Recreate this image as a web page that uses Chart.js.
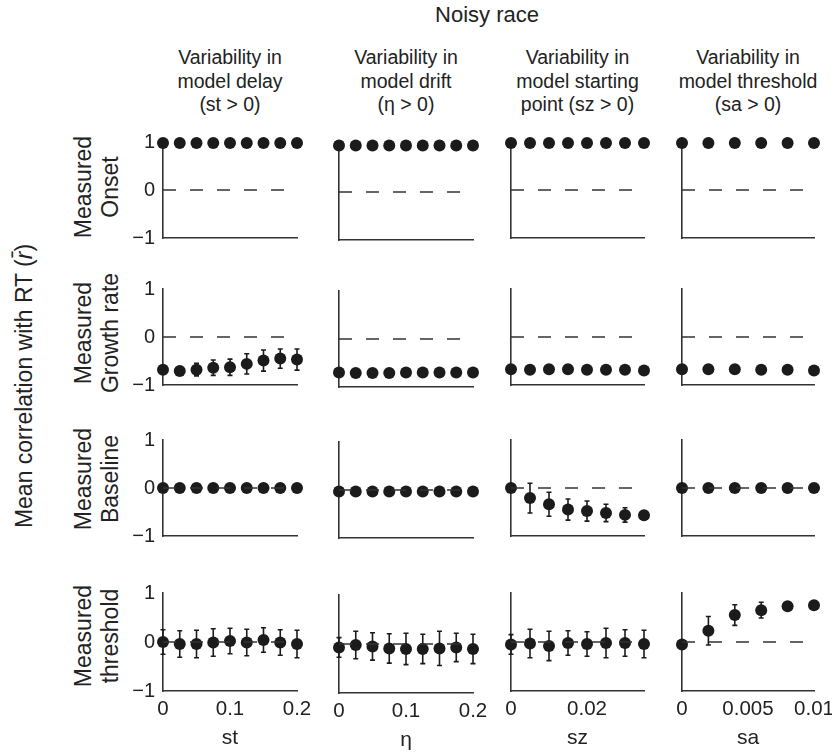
<!DOCTYPE html>
<html>
<head>
<meta charset="utf-8">
<script src="https://cdn.jsdelivr.net/npm/chart.js@4.4.0/dist/chart.umd.min.js"></script>
<style>
  body { margin: 0; background: #fff; font-family: "Liberation Sans", Arial, sans-serif; color: #222; }
  #fig { position: relative; width: 838px; height: 755px; overflow: hidden; }
  .panel { position: absolute; }
  .txt { position: absolute; white-space: nowrap; text-align: center; }
  .title { font-size: 19.5px; line-height: 23.5px; transform: translateX(-50%); }
  .big { font-size: 22px; }
  .rot { font-size: 23px; line-height: 1; transform: translate(-50%, -50%) rotate(-90deg); }
</style>
</head>
<body>
<div id="fig"></div>
<script>
// parameter values (x) for each column
const stX  = [0, 0.025, 0.05, 0.075, 0.1, 0.125, 0.15, 0.175, 0.2];
const etaX = [0, 0.025, 0.05, 0.075, 0.1, 0.125, 0.15, 0.175, 0.2];
const szX  = [0, 0.005, 0.01, 0.015, 0.02, 0.025, 0.03, 0.035];
const saX  = [0, 0.002, 0.004, 0.006, 0.008, 0.01];

const stTicks  = [0, 0.1, 0.2];
const etaTicks = [0, 0.1, 0.2];
const szTicks  = [0, 0.02];
const saTicks  = [0, 0.005, 0.01];
const yTicks   = [-1, 0, 1];

// mean correlation with RT, one array per column (st, eta, sz, sa)
const onsetR = [
  [0.98, 0.98, 0.98, 0.98, 0.98, 0.98, 0.98, 0.98, 0.98],
  [0.97, 0.97, 0.97, 0.97, 0.97, 0.97, 0.97, 0.97, 0.97],
  [0.98, 0.98, 0.98, 0.98, 0.98, 0.98, 0.98, 0.98],
  [0.98, 0.98, 0.98, 0.98, 0.98, 0.98]
];
const onsetErr = [
  [0.01, 0.01, 0.01, 0.01, 0.01, 0.01, 0.01, 0.01, 0.01],
  [0.01, 0.01, 0.01, 0.01, 0.01, 0.01, 0.01, 0.01, 0.01],
  [0.01, 0.01, 0.01, 0.01, 0.01, 0.01, 0.01, 0.01],
  [0.01, 0.01, 0.01, 0.01, 0.01, 0.01]
];
const growthR = [
  [-0.68, -0.71, -0.68, -0.64, -0.63, -0.56, -0.49, -0.45, -0.47],
  [-0.7, -0.71, -0.71, -0.71, -0.7, -0.7, -0.7, -0.7, -0.7],
  [-0.67, -0.68, -0.67, -0.67, -0.68, -0.68, -0.68, -0.7],
  [-0.67, -0.67, -0.67, -0.68, -0.68, -0.7]
];
const growthErr = [
  [0.04, 0.05, 0.13, 0.16, 0.17, 0.21, 0.22, 0.2, 0.22],
  [0.03, 0.03, 0.03, 0.03, 0.03, 0.03, 0.03, 0.03, 0.03],
  [0.03, 0.03, 0.03, 0.03, 0.03, 0.03, 0.03, 0.03],
  [0.03, 0.03, 0.03, 0.03, 0.03, 0.03]
];
const baselineR = [
  [0, 0, 0, 0, 0, 0, 0, 0, 0],
  [-0.03, -0.03, -0.03, -0.03, -0.03, -0.03, -0.03, -0.03, -0.03],
  [0, -0.21, -0.34, -0.45, -0.48, -0.52, -0.56, -0.57],
  [0, 0, 0, 0, 0, 0]
];
const baselineErr = [
  [0.03, 0.03, 0.03, 0.03, 0.03, 0.03, 0.03, 0.03, 0.03],
  [0.03, 0.03, 0.03, 0.03, 0.03, 0.03, 0.03, 0.03, 0.03],
  [0.05, 0.31, 0.25, 0.22, 0.21, 0.18, 0.15, 0.08],
  [0.03, 0.03, 0.03, 0.03, 0.03, 0.03]
];
const thresholdR = [
  [0, -0.04, -0.04, -0.01, 0.02, -0.01, 0.04, -0.01, -0.04],
  [-0.07, -0.02, -0.05, -0.09, -0.1, -0.1, -0.09, -0.07, -0.1],
  [-0.05, -0.03, -0.08, -0.02, -0.04, -0.02, -0.02, -0.04],
  [-0.05, 0.23, 0.55, 0.65, 0.73, 0.75]
];
const thresholdErr = [
  [0.25, 0.27, 0.28, 0.28, 0.26, 0.27, 0.25, 0.26, 0.28],
  [0.2, 0.28, 0.28, 0.3, 0.32, 0.3, 0.35, 0.29, 0.3],
  [0.2, 0.29, 0.3, 0.25, 0.25, 0.3, 0.27, 0.28],
  [0.03, 0.29, 0.21, 0.16, 0.06, 0.04]
];

const xValues = [stX, etaX, szX, saX];
const xTicks = [stTicks, etaTicks, szTicks, saTicks];
const xNames = ['st', 'η', 'sz', 'sa'];
const rowsR = [onsetR, growthR, baselineR, thresholdR];
const rowsErr = [onsetErr, growthErr, baselineErr, thresholdErr];

const colTitles = [
  ['Variability in', 'model delay', '(st > 0)'],
  ['Variability in', 'model drift', '(η > 0)'],
  ['Variability in', 'model starting', 'point (sz > 0)'],
  ['Variability in', 'model threshold', '(sa > 0)']
];
const rowLabels = [
  ['Measured', 'Onset'],
  ['Measured', 'Growth rate'],
  ['Measured', 'Baseline'],
  ['Measured', 'threshold']
];

// layout in page pixels
const colX = [163, 339, 511, 682];
const plotW = [134, 134, 133, 132];
const colShift = [0, 2, 0, 0];
const rowTop = [142, 289, 440, 593];
const plotH = 98;
const yW = 40, padTop = 10, padRight = 18;

const family = '"Liberation Sans", Arial, sans-serif';
const inkColor = '#1b1b1b';
const axisColor = '#333';
const textColor = '#222';

const fig = document.getElementById('fig');

function addText(html, x, y, cls) {
  const d = document.createElement('div');
  d.className = 'txt ' + cls;
  d.innerHTML = html;
  d.style.left = x + 'px';
  d.style.top = y + 'px';
  fig.appendChild(d);
}

// error bars drawn through the chart's own scales
const errorBars = {
  id: 'errorBars',
  beforeDatasetsDraw(chart) {
    const {ctx, scales: {x, y}} = chart;
    ctx.save();
    ctx.strokeStyle = inkColor;
    ctx.lineWidth = 1.6;
    chart.data.datasets.forEach(ds => {
      if (!ds.errors) return;
      ds.data.forEach((p, i) => {
        const px = x.getPixelForValue(p.x);
        const top = y.getPixelForValue(p.y + ds.errors[i]);
        const bot = y.getPixelForValue(p.y - ds.errors[i]);
        ctx.beginPath();
        ctx.moveTo(px, top); ctx.lineTo(px, bot);
        ctx.moveTo(px - 2.5, top); ctx.lineTo(px + 2.5, top);
        ctx.moveTo(px - 2.5, bot); ctx.lineTo(px + 2.5, bot);
        ctx.stroke();
      });
    });
    ctx.restore();
  }
};

function makePanel(r, c) {
  const bottomRow = r === 3;
  const leftCol = c === 0;
  const xs = xValues[c];
  const means = rowsR[r][c];
  const errs = rowsErr[r][c];
  const xH = bottomRow ? 62 : 0;
  const padBottom = bottomRow ? 0 : 4;

  const canvas = document.createElement('canvas');
  canvas.className = 'panel';
  canvas.width = yW + plotW[c] + padRight;
  canvas.height = padTop + plotH + xH + padBottom;
  canvas.style.left = (colX[c] - yW) + 'px';
  canvas.style.top = (rowTop[r] + colShift[c] - padTop) + 'px';
  fig.appendChild(canvas);

  new Chart(canvas.getContext('2d'), {
    type: 'scatter',
    data: {
      datasets: [{
        data: [{x: xs[0], y: 0}, {x: xs[xs.length - 1], y: 0}],
        showLine: true,
        borderColor: axisColor,
        borderWidth: 1.5,
        borderDash: [13, 14],
        pointRadius: 0,
        clip: false
      }, {
        data: xs.map((x, i) => ({x: x, y: means[i]})),
        errors: errs,
        pointRadius: 6,
        backgroundColor: inkColor,
        borderWidth: 0,
        clip: false
      }]
    },
    options: {
      responsive: false,
      animation: false,
      events: [],
      layout: {padding: {top: padTop, right: padRight, left: 0, bottom: padBottom}},
      plugins: {legend: {display: false}, tooltip: {enabled: false}},
      scales: {
        x: {
          type: 'linear',
          min: 0,
          max: xs[xs.length - 1],
          grid: {display: false, drawTicks: false},
          border: {display: true, color: axisColor, width: 1.6},
          afterBuildTicks: s => { s.ticks = xTicks[c].map(v => ({value: v})); },
          ticks: {
            display: bottomRow, autoSkip: false, maxRotation: 0, padding: 6,
            color: textColor, font: {size: 20.5, family: family},
            callback: v => String(v)
          },
          title: {
            display: bottomRow, text: xNames[c], color: textColor,
            font: {size: 21, family: family}, padding: {top: 0, bottom: 2}
          },
          afterFit: s => { s.height = xH; s.paddingLeft = 0; s.paddingRight = 0; }
        },
        y: {
          min: -1,
          max: 1,
          grid: {display: false, drawTicks: false},
          border: {display: true, color: axisColor, width: 1.6},
          afterBuildTicks: s => { s.ticks = yTicks.map(v => ({value: v})); },
          ticks: {
            display: leftCol, padding: 8, color: textColor,
            font: {size: 20, family: family},
            callback: v => v < 0 ? '\u2212' + Math.abs(v) : String(v)
          },
          afterFit: s => { s.width = yW; s.paddingTop = 0; s.paddingBottom = 0; }
        }
      }
    },
    plugins: [errorBars]
  });
}

// headings
addText('Noisy race', 487, 3, 'title big');
colTitles.forEach((lines, c) => {
  addText(lines.join('<br>'), colX[c] + plotW[c] / 2, 46, 'title');
});

// row labels
const rowMid = [187, 333, 479, 636];
rowLabels.forEach((lines, r) => {
  addText(lines[0], 83, rowMid[r], 'rot');
  addText(lines[1], 110, rowMid[r], 'rot');
});
addText('Mean correlation with RT (<i>r̄</i>)', 24, 386, 'rot');

for (let r = 0; r < 4; r++) {
  for (let c = 0; c < 4; c++) makePanel(r, c);
}
</script>
</body>
</html>
